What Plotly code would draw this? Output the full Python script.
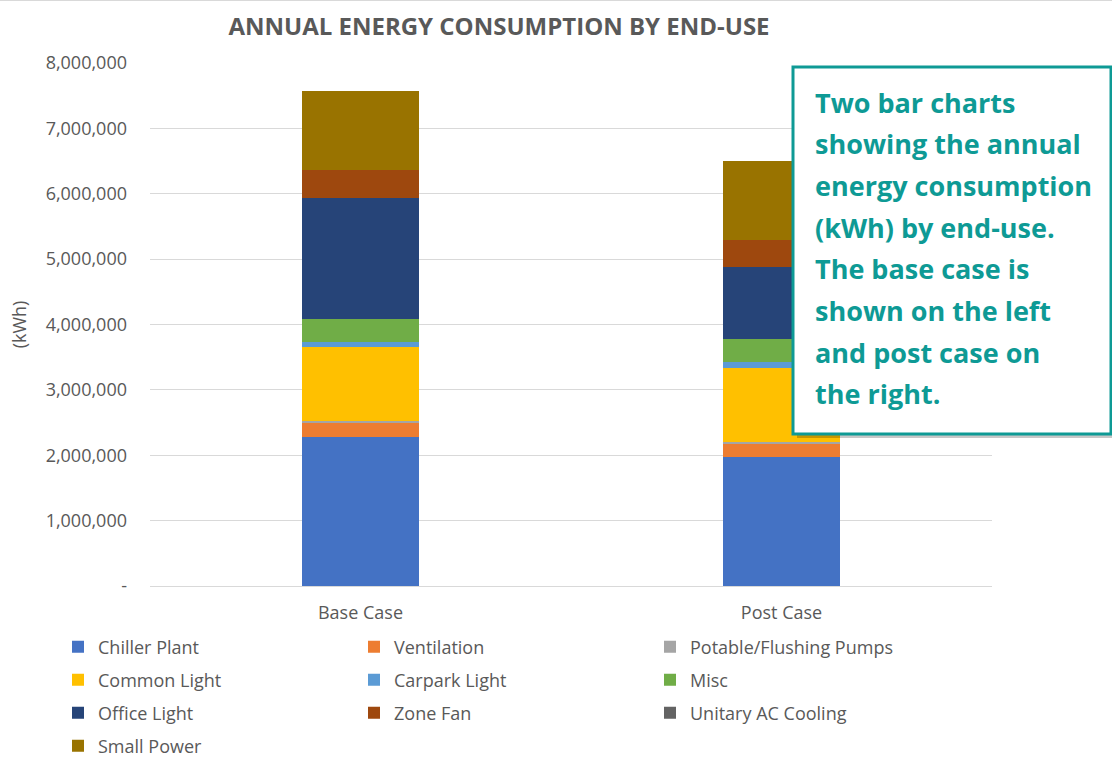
import plotly.graph_objects as go

# ---- data -------------------------------------------------------------
cases = ["Base Case", "Post Case"]

end_uses = [
    "Chiller Plant", "Ventilation", "Potable/Flushing Pumps",
    "Common Light", "Carpark Light", "Misc",
    "Office Light", "Zone Fan", "Unitary AC Cooling",
    "Small Power",
]

chiller_plant = [2285000, 1977000]
ventilation = [212000, 190000]
potable_pumps = [26000, 35000]
common_light = [1136000, 1136000]
carpark_light = [67000, 82000]
misc = [352000, 357000]
office_light = [1855000, 1101000]
zone_fan = [438000, 412000]
unitary_ac = [0, 0]
small_power = [1203000, 1208000]

series = [chiller_plant, ventilation, potable_pumps, common_light,
          carpark_light, misc, office_light, zone_fan, unitary_ac,
          small_power]

colors = ["#4472C4", "#ED7D31", "#A5A5A5", "#FFC000", "#5B9BD5",
          "#70AD47", "#264478", "#9E480E", "#636363", "#997300"]

y_ticks = [0, 1000000, 2000000, 3000000, 4000000, 5000000,
           6000000, 7000000, 8000000]
y_tick_text = ["-"] + [f"{v:,}" for v in y_ticks[1:]]

note_lines = [
    "Two bar charts",
    "showing the annual",
    "energy consumption",
    "(kWh) by end-use.",
    "The base case is",
    "shown on the left",
    "and post case on",
    "the right.",
]

# ---- layout geometry (pixels) -----------------------------------------
W, H = 1112, 758
L, R, T, B = 150, 120, 63, 172
PW, PH = W - L - R, H - T - B


def px_x(px):
    return (px - L) / PW


def px_y(py):
    return (H - B - py) / PH


FONT = "Open Sans"
GREY = "#595959"
TEAL = "#0E9A95"

# legend rows: three entries per row, each row its own legend
legend_names = ["legend", "legend2", "legend3", "legend4"]
row_centres = [647, 680, 713, 746]

fig = go.Figure()
for i, (name, vals, col) in enumerate(zip(end_uses, series, colors)):
    fig.add_trace(go.Bar(
        x=cases, y=vals, name=name,
        marker=dict(color=col, line=dict(width=0)),
        width=0.28,
        legend=legend_names[i // 3],
        hovertemplate="%{x}<br>" + name + ": %{y:,} kWh<extra></extra>",
    ))

legend_cfg = {}
for lname, yc in zip(legend_names, row_centres):
    legend_cfg[lname] = dict(
        orientation="h",
        x=px_x(58), xanchor="left",
        y=px_y(yc), yanchor="middle",
        entrywidth=251, entrywidthmode="pixels",
        font=dict(family=FONT, size=18, color=GREY),
        traceorder="normal",
        bgcolor="rgba(0,0,0,0)",
    )

# text box with drop shadow
box_x0, box_x1, box_y0, box_y1 = 793, 1111, 67, 434
shapes = [
    dict(type="line", xref="paper", yref="paper",
         x0=px_x(0), x1=px_x(W), y0=px_y(0.5), y1=px_y(0.5),
         line=dict(color="#D9D9D9", width=1)),
    dict(type="rect", xref="paper", yref="paper", layer="above",
         x0=px_x(box_x0 + 4), x1=px_x(box_x1 + 4),
         y0=px_y(box_y1 + 4), y1=px_y(box_y0 + 4),
         fillcolor="rgba(0,0,0,0.22)", line=dict(width=0)),
    dict(type="rect", xref="paper", yref="paper", layer="above",
         x0=px_x(box_x0), x1=px_x(box_x1),
         y0=px_y(box_y1), y1=px_y(box_y0),
         fillcolor="white", line=dict(color=TEAL, width=3)),
]

annotations = []
for k, line in enumerate(note_lines):
    annotations.append(dict(
        xref="paper", yref="paper",
        x=px_x(813), xanchor="left",
        y=px_y(102 + 41.7 * k), yanchor="middle",
        text=f"<b>{line}</b>", showarrow=False, align="left",
        font=dict(family=FONT, size=27, color=TEAL),
    ))

fig.update_layout(
    width=W, height=H,
    margin=dict(l=L, r=R, t=T, b=B, autoexpand=False),
    paper_bgcolor="white", plot_bgcolor="white",
    barmode="stack",
    title=dict(
        text="<b>ANNUAL ENERGY CONSUMPTION BY END-USE</b>",
        x=499 / W, xref="container", xanchor="center",
        y=1 - 27 / H, yref="container", yanchor="middle",
        font=dict(family=FONT, size=24, color=GREY),
    ),
    xaxis=dict(
        showgrid=False, zeroline=False, showline=False,
        ticks="", ticklabelstandoff=14,
        tickfont=dict(family=FONT, size=18, color=GREY),
    ),
    yaxis=dict(
        range=[0, 8000000],
        tickvals=y_ticks, ticktext=y_tick_text,
        showgrid=True, gridcolor="#D9D9D9", gridwidth=1,
        zeroline=True, zerolinecolor="#D9D9D9", zerolinewidth=1,
        showline=False, ticks="", ticklabelstandoff=22,
        tickfont=dict(family=FONT, size=18, color=GREY),
        title=dict(text="(kWh)", standoff=14,
                   font=dict(family=FONT, size=18, color=GREY)),
    ),
    shapes=shapes,
    annotations=annotations,
    showlegend=True,
    **legend_cfg,
)

fig.write_html("out.html")
